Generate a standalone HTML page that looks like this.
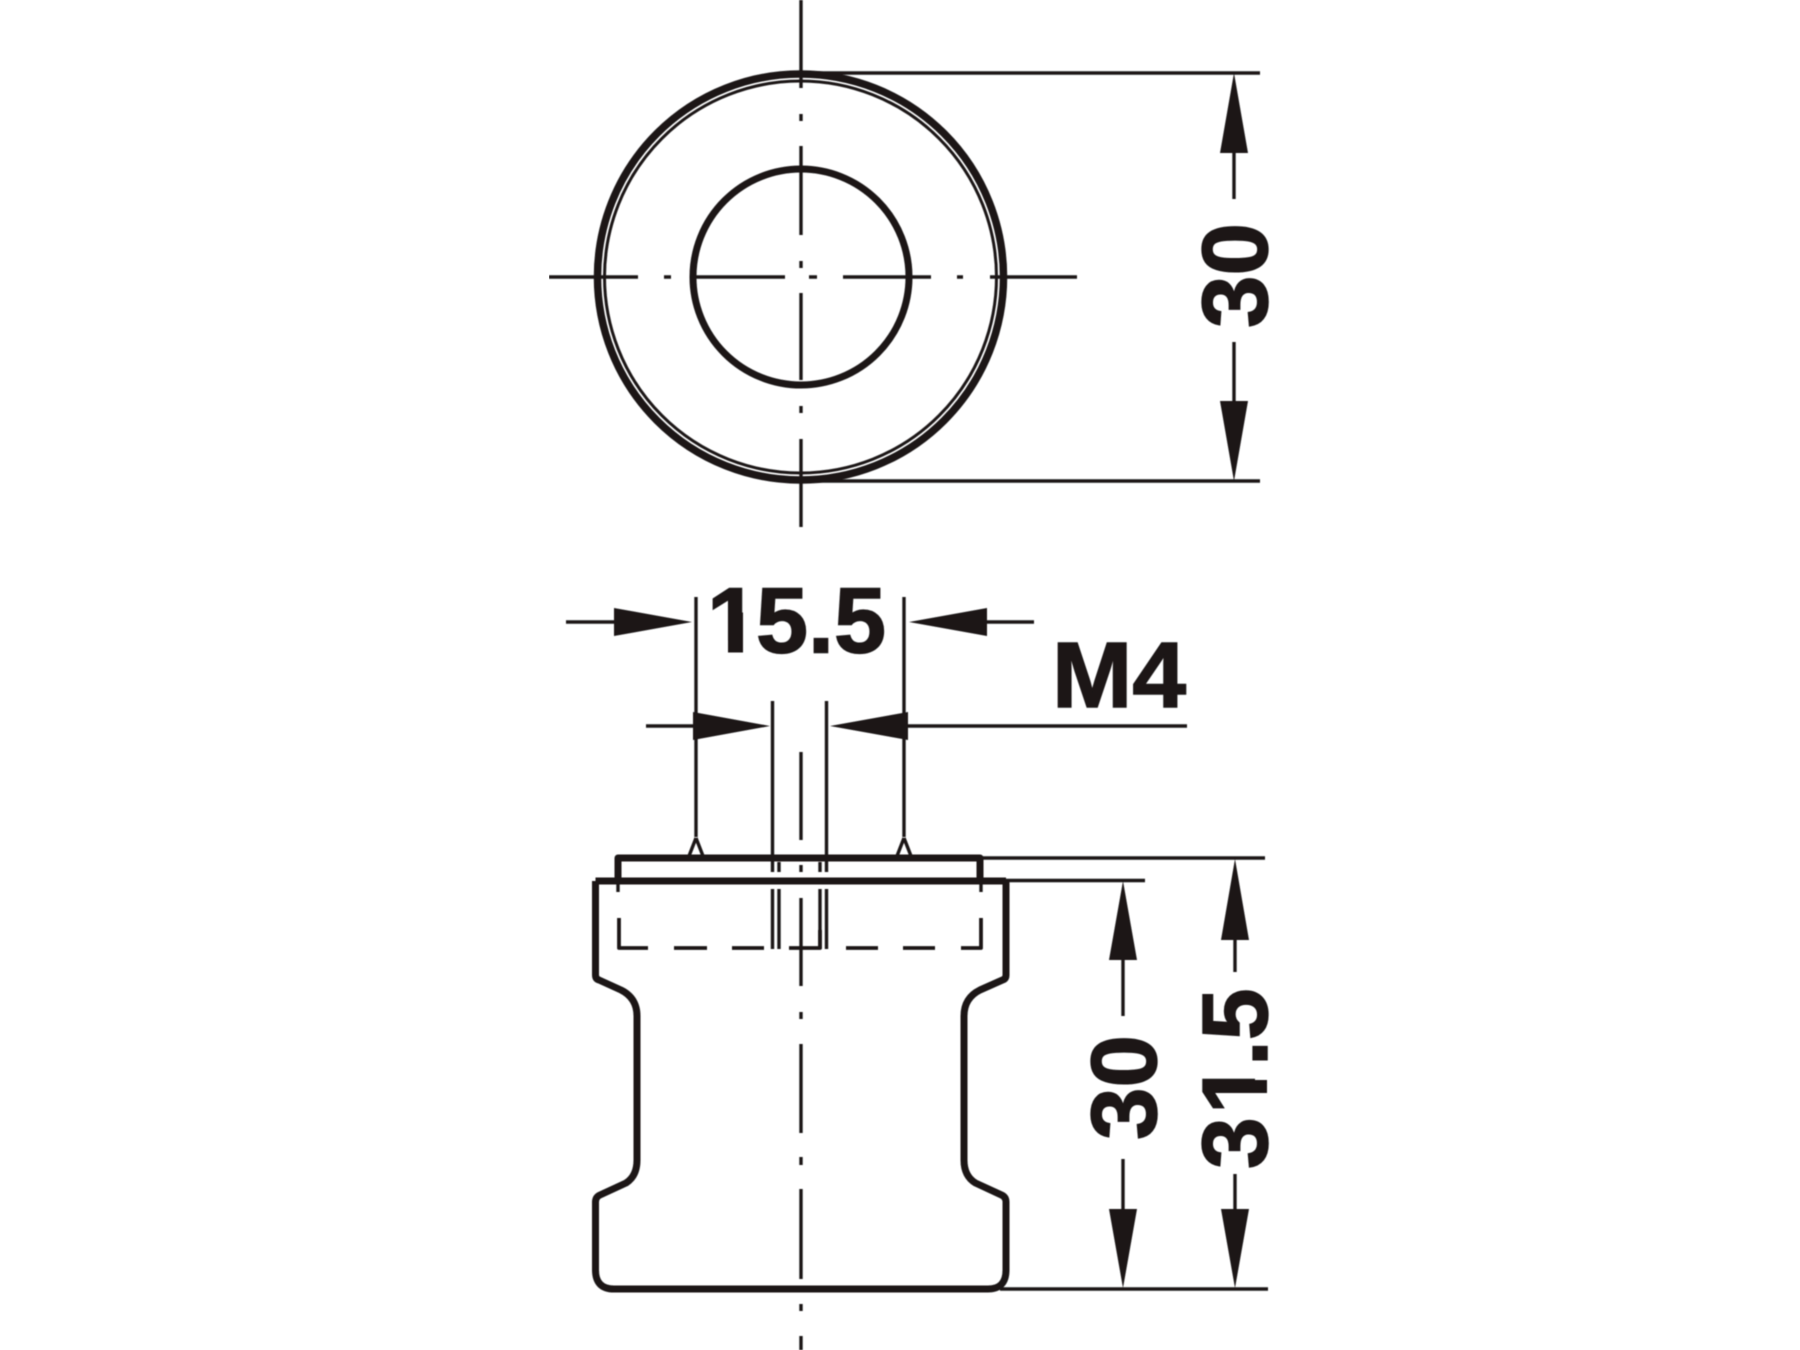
<!DOCTYPE html>
<html>
<head>
<meta charset="utf-8">
<style>
html,body{margin:0;padding:0;background:#fff;width:1800px;height:1350px;overflow:hidden}
svg{display:block}
text{font-family:"Liberation Sans",Arial,sans-serif;font-weight:700;font-size:93px;fill:#1a1718;stroke:#1a1718;stroke-width:1.5;text-rendering:geometricPrecision}
</style>
</head>
<body>
<svg width="1800" height="1350" viewBox="0 0 1800 1350" xmlns="http://www.w3.org/2000/svg">
<defs>
  <filter id="soft" x="0" y="0" width="100%" height="100%"><feGaussianBlur stdDeviation="0.55"/></filter>
  <clipPath id="nofoot"><rect x="-20" y="-100" width="120" height="88"/></clipPath>
</defs>
<rect width="1800" height="1350" fill="#fff"/>
<g filter="url(#soft)">
<g fill="none" stroke="#1a1718" stroke-linecap="butt" stroke-linejoin="round">
  <!-- top view -->
  <circle cx="800.5" cy="277" r="203" stroke-width="7.5"/>
  <circle cx="800.5" cy="277" r="196" stroke-width="3"/>
  <circle cx="801" cy="277" r="108" stroke-width="7"/>
  <g stroke-width="3.4">
    <path d="M549 277H638M664 277H671M695 277H785M809 277H817M843 277H931M957 277H963M990 277H1077"/>
    <path d="M801 0V88M801 114V121M801 146V235M801 261V268M801 293V380M801 406V413M801 439V527"/>
    <path d="M801 73H1260M801 481H1260"/>
    <path d="M1234 153V199M1234 342V401"/>
  </g>
  <!-- side view: extension lines -->
  <g stroke-width="3.4">
    <path d="M696 597V837M904 597V837"/>
    <path d="M566 622H614M987 622H1034M646 726H694M908 726H1187"/>
    <path d="M772.5 701V872M772.5 889V949M826.5 701V872M826.5 889V949"/>
    <path d="M779 862V872M779 889V949M820 862V872M820 889V949"/>
    <path d="M801 752V840M801 865V872M801 898V986M801 1012V1019M801 1044V1133M801 1157V1165M801 1189V1279M801 1304V1311M801 1336V1350"/>
    <path d="M980 858H1265M1006 880.5H1145M1000 1289H1268"/>
    <path d="M1123 960V1016M1123 1159V1209M1235 940V972M1235 1174V1209"/>
    <path d="M619 918V948H648M674 948H707M732 948H764M789 948H820V930M846 948H878M903 948H935M961 948H981V918" stroke-width="3.8"/>
    <path d="M618 880V892M981 880V892"/>
    <path d="M696 838L689 856M696 838L703 856M904 838L897 856M904 838L911 856"/>
  </g>
  <!-- flange and body -->
  <path d="M618 881V858H980V881" stroke-width="7"/>
  <path d="M595.5 881H1006M595.5 881V975Q595.5 979 599 980L621 990Q637 998 637 1016V1160Q637 1176 626 1183L600 1195Q595.5 1197 595.5 1202V1270Q595.5 1289 614 1289H988Q1006 1289 1006 1270V1202Q1006 1197 1001.5 1195L975.5 1183Q964 1176 964 1160V1016Q964 998 980 990L1002.5 980Q1006 979 1006 975V881" stroke-width="7"/>
</g>
<!-- arrowheads -->
<g fill="#1a1718">
  <path d="M1234 73L1248 153H1220Z"/>
  <path d="M1234 481L1248 401H1220Z"/>
  <path d="M692 622L614 608V636Z"/>
  <path d="M909 622L987 608V636Z"/>
  <path d="M770 726L693 712V740Z"/>
  <path d="M830 726L908 712V740Z"/>
  <path d="M1123 881L1137 960H1109Z"/>
  <path d="M1123 1288L1137 1209H1109Z"/>
  <path d="M1235 859L1249 940H1221Z"/>
  <path d="M1235 1288L1249 1209H1221Z"/>
</g>
<!-- labels -->
<g transform="translate(707 652.5)">
  <text x="0" y="0" clip-path="url(#nofoot)">1</text>
  <rect x="21" y="-40" width="15" height="40" fill="#1a1718"/>
</g>
<text x="756" y="652.5" textLength="130" lengthAdjust="spacingAndGlyphs">5.5</text>
<text x="1052" y="707" textLength="134" lengthAdjust="spacingAndGlyphs">M4</text>
<text transform="translate(1267 328) rotate(-90)" textLength="105" lengthAdjust="spacingAndGlyphs">30</text>
<text transform="translate(1156 1140) rotate(-90)" textLength="105" lengthAdjust="spacingAndGlyphs">30</text>
<text transform="translate(1267 1169) rotate(-90)">3</text>
<g transform="translate(1267 1114) rotate(-90)">
  <text x="0" y="0" clip-path="url(#nofoot)">1</text>
  <rect x="21" y="-40" width="13" height="40" fill="#1a1718"/>
</g>
<text transform="translate(1267 1066) rotate(-90)">.5</text>
</g>
</svg>
</body>
</html>
